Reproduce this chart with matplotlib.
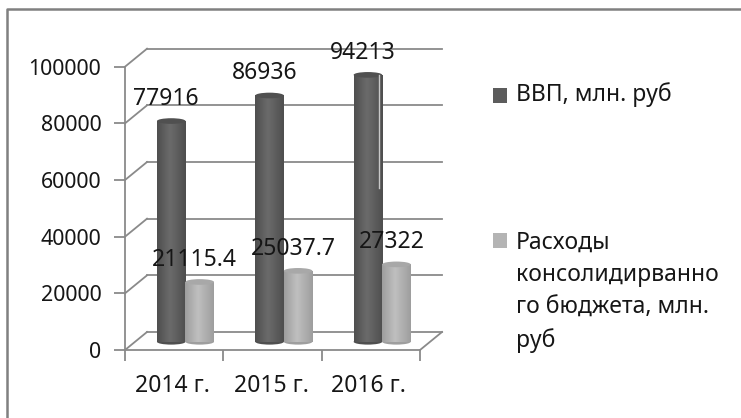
import numpy as np
import matplotlib.pyplot as plt
from matplotlib.lines import Line2D
from matplotlib.patches import Ellipse, Rectangle

years = ['2014 г.', '2015 г.', '2016 г.']
vvp = [77916, 86936, 94213]
rashody = [21115.4, 25037.7, 27322]
rashody_labels = ['21115.4', '25037.7', '27322']
vvp_labels = ['77916', '86936', '94213']
series_names = ['ВВП, млн. руб', 'Расходы\nконсолидирванно\nго бюджета, млн.\nруб']
yticks = [0, 20000, 40000, 60000, 80000, 100000]

W, H = 741, 418
plt.rcParams['font.family'] = ['Noto Sans', 'DejaVu Sans']
text_c = '#161616'
line_c = '#8a8a8a'
fs = 16.5

fig = plt.figure(figsize=(W/100, H/100), dpi=100)
ax = fig.add_axes([125/W, 1-350/H, 295/W, 283.3/H])

# fake 3d depth of the chart box, in data units
dx = 0.224
dy = 6360
base = 2900
bar_w = 0.29

for v in yticks:
    ax.plot([dx, 3+dx], [v+dy, v+dy], c=line_c, lw=1.3, clip_on=False, zorder=1)
    ax.plot([0, dx], [v, v+dy], c=line_c, lw=1.3, clip_on=False, zorder=1)
ax.plot([3, 3+dx], [0, dy], c=line_c, lw=1.3, clip_on=False, zorder=1)


def cylinder(x, val, low, mid, top_c):
    # shaded body, then round bottom and top
    shade = np.interp(np.linspace(0, 1, 40), [0, 0.45, 1], [low, mid, low])
    ell_h = 2000
    ax.add_patch(Ellipse((x, base), bar_w, ell_h, fc=str(low), ec='none', zorder=3))
    ax.imshow(shade[None, :], extent=[x-bar_w/2, x+bar_w/2, base, val+base],
              cmap='gray', vmin=0, vmax=1, aspect='auto', zorder=3)
    ax.add_patch(Ellipse((x, val+base), bar_w, ell_h, fc=top_c, ec='none', zorder=4))


for i in range(len(years)):
    cylinder(i+0.47, vvp[i], 0.31, 0.42, '#505050')
    cylinder(i+0.76, rashody[i], 0.62, 0.75, '#a8a8a8')

# pale scratch on the last dark bar
ax.plot([2.585, 2.585], [57200, vvp[2]+base], c='#c8c8c8', lw=1, zorder=5)

for i in range(len(years)):
    t = ax.text(i+0.42, vvp[i]+base+7800, vvp_labels[i], fontsize=fs, color=text_c,
                ha='center', va='center', zorder=6, clip_on=False)
    if i == 0:
        # the lower part of this label is cut off in the picture
        t.set_clip_path(Rectangle((0, 80000+dy), 3, 40000, transform=ax.transData))
        t.set_clip_on(True)
    ax.text(i+0.71, rashody[i]+base+7800, rashody_labels[i], fontsize=fs, color=text_c,
            ha='center', va='center', zorder=6, clip_on=False)

ax.set_xlim(0, 3)
ax.set_ylim(0, 100000)
ax.set_yticks(yticks)
ax.set_xticks([0, 1, 2, 3])
ax.set_xticklabels([])
ax.set_xticks([0.48, 1.485, 2.48], years, minor=True)
ax.tick_params(axis='x', which='major', length=8, width=1.3, color=line_c)
ax.tick_params(axis='x', which='minor', length=0, pad=17, labelsize=fs, labelcolor=text_c)
ax.tick_params(axis='y', length=8, width=1.3, color=line_c, labelsize=15.4,
               labelcolor=text_c, pad=9)
ax.patch.set_visible(False)
for s in ['top', 'right']:
    ax.spines[s].set_visible(False)
for s in ['left', 'bottom']:
    ax.spines[s].set_color(line_c)
    ax.spines[s].set_linewidth(1.3)

# legend, placed by hand since the second entry wraps over 4 lines
fig.add_artist(Rectangle((493/W, 1-103/H), 14/W, 15/H, fc='#5c5c5c', ec='none',
                         transform=fig.transFigure))
fig.add_artist(Rectangle((493/W, 1-248/H), 14/W, 15/H, fc='#b4b4b4', ec='none',
                         transform=fig.transFigure))
fig.text(516/W, 1-95/H, series_names[0], fontsize=fs, color=text_c, va='center')
fig.text(516/W, 1-231/H, series_names[1], fontsize=fs, color=text_c, va='top',
         linespacing=1.46)

# outer frame, only top and left survive in the picture
fig.add_artist(Line2D([7/W, 7/W, 1], [0, 1-9/H, 1-9/H], c='#808080', lw=1.8))

fig.savefig('out.png', dpi=100)
